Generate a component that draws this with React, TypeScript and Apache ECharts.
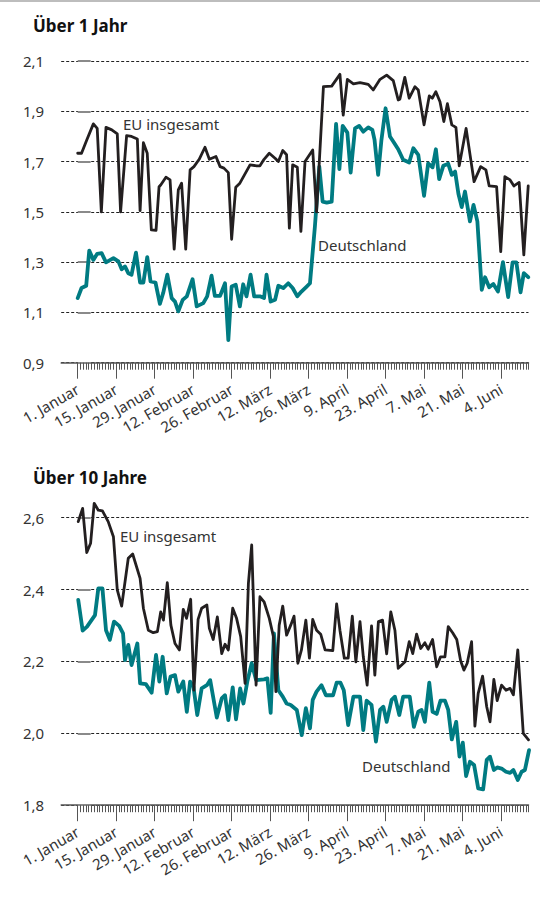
import React, { useEffect, useRef } from 'react';
import * as echarts from 'echarts';

const tickLabels = ['1. Januar', '15. Januar', '29. Januar', '12. Februar', '26. Februar', '12. März', '26. März', '9. April', '23. April', '7. Mai', '21. Mai', '4. Juni'];
const yTicks1 = [0.9, 1.1, 1.3, 1.5, 1.7, 1.9, 2.1];
const yTicks2 = [1.8, 2.0, 2.2, 2.4, 2.6];
const titles = ['Über 1 Jahr', 'Über 10 Jahre'];
const seriesNames = ['EU insgesamt', 'Deutschland'];

// [day since 1 January, yield in %]
const eu1 = [[0,1.733],[1.4,1.733],[3.3,1.786],[5.7,1.85],[7.1,1.832],[8.6,1.5],[10.3,1.836],[12.4,1.826],[14.4,1.81],[15.6,1.5],[17.8,1.803],[19.6,1.80],[21.7,1.79],[22.7,1.505],[23.9,1.775],[25.3,1.733],[26.8,1.428],[28.5,1.426],[29.6,1.6],[30.2,1.607],[32.1,1.638],[33.6,1.627],[35.1,1.352],[36.6,1.587],[37.8,1.614],[39.3,1.352],[40.9,1.667],[42.3,1.68],[44.2,1.709],[46.3,1.757],[47.9,1.709],[50.3,1.72],[51.8,1.68],[53.2,1.674],[54.8,1.656],[56,1.391],[57.5,1.598],[59,1.614],[62.7,1.687],[65.1,1.683],[66.3,1.683],[67.8,1.709],[69.7,1.733],[71.8,1.713],[73,1.70],[74.6,1.744],[76,1.727],[77,1.435],[78.2,1.687],[79.9,1.677],[81.2,1.422],[82.7,1.70],[85.5,1.746],[86.9,1.5],[89.4,1.998],[92.4,2.0],[95.4,2.047],[96.6,1.885],[98.1,2.027],[100.3,2.009],[102.7,2.014],[105.7,2.007],[107.5,1.985],[110,2.027],[112.4,2.044],[114.8,2.022],[116.6,1.945],[117.2,1.948],[119,2.035],[120.6,1.952],[122.7,1.998],[123.9,1.985],[126,1.846],[127.9,1.961],[129,1.952],[130.3,1.978],[131.8,1.938],[133.2,1.859],[134.5,1.93],[136.1,1.846],[137.6,1.836],[138.8,1.683],[141.3,1.832],[144.2,1.62],[146.6,1.68],[148.5,1.667],[149.7,1.603],[152.4,1.60],[153.9,1.342],[155.4,1.64],[157.3,1.627],[158.7,1.603],[160.6,1.617],[162.3,1.329],[163.9,1.603]];

const de1 = [[0,1.157],[1.4,1.197],[3.1,1.206],[4.2,1.346],[5.7,1.309],[7.1,1.333],[8.7,1.336],[10.3,1.299],[13,1.316],[14.8,1.303],[16,1.272],[17.2,1.283],[18.4,1.256],[19.6,1.25],[21.2,1.338],[22.7,1.219],[23.9,1.219],[25.3,1.32],[26.5,1.223],[28.3,1.219],[29.9,1.134],[31.1,1.177],[32.6,1.25],[34.2,1.157],[35.4,1.143],[36.6,1.104],[38.2,1.15],[39.7,1.164],[41.8,1.232],[43.3,1.124],[45.7,1.137],[47.1,1.164],[48.7,1.246],[49.9,1.166],[51.8,1.166],[53.6,1.216],[54.8,0.99],[56,1.203],[57.5,1.21],[59,1.124],[60.2,1.212],[61.4,1.164],[62.9,1.25],[64.2,1.164],[66.3,1.164],[67.8,1.157],[68.7,1.25],[70.2,1.143],[71.8,1.15],[73,1.206],[74.8,1.197],[76.6,1.216],[78.2,1.197],[79.9,1.164],[81.4,1.183],[83.3,1.203],[84.5,1.216],[86.3,1.442],[87.9,1.68],[89.1,1.541],[90.6,1.537],[92.4,1.541],[94,1.85],[95.2,1.67],[96.4,1.842],[98.1,1.815],[99.3,1.656],[100.9,1.832],[102.4,1.842],[103.9,1.819],[105.7,1.836],[107.2,1.826],[108,1.786],[109.3,1.647],[110.5,1.786],[112,1.912],[113.6,1.80],[114.8,1.78],[116.6,1.749],[118.4,1.707],[120.6,1.696],[122.1,1.753],[123.9,1.727],[126,1.564],[127.5,1.693],[129.1,1.677],[130.3,1.749],[131.5,1.63],[133,1.683],[134.8,1.691],[136.1,1.647],[137.3,1.66],[138.5,1.572],[139.7,1.519],[140.9,1.581],[142.7,1.462],[144,1.528],[145.4,1.462],[147,1.19],[148.2,1.24],[149.7,1.2],[151.2,1.213],[152.9,1.183],[154.7,1.3],[156.6,1.161],[158.2,1.299],[159.6,1.299],[161.1,1.18],[162.3,1.256],[163.9,1.24]];

const eu2 = [[0.2,2.589],[1.8,2.626],[3.3,2.503],[4.7,2.529],[6,2.64],[7.5,2.621],[9,2.619],[11.1,2.589],[13,2.547],[14.4,2.399],[16,2.354],[18.4,2.487],[20,2.499],[22.7,2.431],[23.9,2.348],[25.7,2.287],[27.5,2.28],[29,2.283],[30.2,2.338],[31.2,2.315],[32.6,2.419],[33.9,2.301],[35.4,2.25],[37,2.232],[38.4,2.345],[39.6,2.32],[41.1,2.373],[42.3,2.12],[43.8,2.317],[45.1,2.348],[47,2.357],[47.9,2.292],[49.3,2.261],[50.8,2.324],[52.4,2.222],[53.6,2.248],[54.8,2.232],[56.4,2.348],[57.8,2.32],[59.3,2.269],[60.9,2.139],[62.1,2.417],[63.3,2.524],[64.9,2.134],[66.3,2.38],[67.8,2.366],[69.7,2.32],[71.2,2.269],[72.1,2.116],[73.3,2.301],[74.6,2.354],[76,2.273],[77.5,2.301],[78.7,2.326],[80.1,2.195],[81.4,2.232],[83,2.315],[84.3,2.209],[85.5,2.317],[86.9,2.287],[88.4,2.276],[90,2.232],[92.8,2.23],[94.2,2.36],[95.4,2.287],[97,2.209],[98.4,2.209],[99.9,2.326],[101.2,2.199],[102.7,2.311],[103.9,2.213],[105.3,2.134],[106.9,2.299],[108.1,2.162],[109.4,2.311],[110.9,2.315],[112.4,2.221],[113.9,2.338],[115.4,2.287],[116.6,2.181],[119.1,2.199],[120.6,2.255],[121.9,2.222],[123.3,2.276],[124.8,2.236],[126.3,2.252],[127.5,2.234],[129.1,2.261],[130.6,2.185],[132,2.213],[133.6,2.213],[134.8,2.297],[136.4,2.28],[137.9,2.261],[139.3,2.202],[140.5,2.176],[141.7,2.195],[143.3,2.255],[144.5,2.02],[145.7,2.111],[147.3,2.159],[148.8,2.074],[150,2.032],[151.4,2.15],[152.6,2.091],[154.2,2.134],[155.8,2.12],[157.3,2.125],[158.5,2.107],[160.1,2.232],[162.1,2.0],[164,1.982]];

const de2 = [[0.2,2.371],[1.8,2.286],[3.4,2.297],[6.3,2.329],[7.5,2.403],[9,2.403],[10.3,2.287],[11.7,2.26],[13.2,2.311],[15.1,2.299],[16.5,2.278],[17.2,2.204],[18.4,2.246],[19.6,2.19],[21.7,2.25],[22.7,2.139],[24.8,2.137],[26.9,2.113],[28.5,2.218],[29.7,2.144],[30.9,2.213],[32.4,2.111],[33.8,2.158],[35.4,2.162],[36.6,2.116],[38.4,2.144],[39.7,2.06],[40.9,2.144],[42.1,2.13],[43.5,2.051],[45.1,2.125],[47,2.134],[48.2,2.148],[50.6,2.044],[52.4,2.097],[53.6,2.106],[54.8,2.037],[56.4,2.128],[57.6,2.039],[59.1,2.125],[60.3,2.083],[61.7,2.144],[63.3,2.195],[64.9,2.148],[67.8,2.15],[69,2.153],[70.2,2.057],[71.4,2.278],[73,2.12],[74.6,2.102],[76,2.083],[77.5,2.079],[79.7,2.065],[81.5,1.995],[83,2.07],[84.5,2.014],[85.5,2.093],[86.9,2.116],[88.7,2.134],[90.3,2.106],[92.9,2.106],[94.2,2.141],[95.6,2.141],[96.8,2.12],[98.4,2.023],[100.3,2.102],[102.7,2.102],[103.9,2.009],[105.1,2.091],[106.9,2.079],[108.5,1.977],[110,2.065],[111.2,2.074],[112.4,2.032],[114.2,2.093],[115.4,2.102],[117,2.051],[118.4,2.102],[120.8,2.102],[122.3,2.018],[123.9,2.06],[125.1,2.065],[126.3,2.032],[127.9,2.141],[129.1,2.06],[130.6,2.054],[132,2.091],[133.6,2.091],[134.8,2.065],[136.1,1.983],[137.7,2.032],[138.9,1.935],[140.1,1.974],[141.3,1.881],[142.7,1.921],[144.2,1.912],[145.7,1.847],[147.5,1.844],[148.8,1.926],[150,1.935],[151.4,1.898],[152.6,1.905],[154.2,1.902],[155.8,1.893],[157.3,1.89],[158.5,1.898],[160.1,1.87],[161.5,1.893],[162.7,1.898],[164.2,1.953]];

const DAY_MIN = -6;
const DAY_MAX = 164;
const dayCats = Array.from({ length: DAY_MAX - DAY_MIN + 1 }, (_, i) => String(i + DAY_MIN));

const FONT = '"Noto Sans", sans-serif';
const TEAL = '#007b82';
const BLACK = '#231f20';
const TXT = '#333333';

const isMajor = (i: number) => {
  const d = i + DAY_MIN;
  return d >= 0 && d % 14 === 0;
};

function buildOption() {
  const grids = [
    { left: 61.2, right: 11.5, top: 61, height: 301.7 },
    { left: 61.2, right: 11.5, top: 517.7, height: 287.5 },
  ];
  const xAxis: any[] = [];
  const yAxis: any[] = [];
  const yTicks = [yTicks1, yTicks2];
  [0, 1].forEach((g) => {
    xAxis.push({
      type: 'category', gridIndex: g, position: 'bottom', data: dayCats, boundaryGap: false,
      axisLine: { show: true, onZero: false, lineStyle: { color: '#555', width: 1.5 } },
      axisTick: { show: true, interval: (i: number) => i + DAY_MIN >= 0, length: 7, lineStyle: { color: '#555', width: 1 } },
      axisLabel: { show: false }, splitLine: { show: false },
    });
    xAxis.push({
      type: 'category', gridIndex: g, position: 'bottom', data: dayCats, boundaryGap: false,
      axisLine: { show: false, onZero: false },
      axisTick: { show: true, interval: (i: number) => isMajor(i), length: 16, lineStyle: { color: '#555', width: 1 } },
      axisLabel: {
        show: true, interval: (i: number) => isMajor(i), rotate: 30, margin: 25,
        formatter: (v: string) => tickLabels[Number(v) / 14] ?? '',
        fontSize: 15, color: TXT, fontFamily: FONT,
      },
      splitLine: { show: false },
    });
    xAxis.push({ type: 'value', gridIndex: g, min: DAY_MIN, max: DAY_MAX, show: false });
    const t = yTicks[g];
    yAxis.push({
      type: 'value', gridIndex: g, min: t[0], max: t[t.length - 1],
      axisLine: { show: false },
      axisTick: { show: true, inside: true, length: 13, customValues: t, lineStyle: { color: '#8a8a8a', width: 2 } },
      axisLabel: {
        show: true, customValues: t, margin: 17,
        formatter: (v: number) => v.toFixed(1).replace('.', ','),
        fontSize: 15, color: TXT, fontFamily: FONT,
      },
      splitLine: { show: true, lineStyle: { type: [3, 2], color: '#222', width: 1 } },
    });
  });

  const line = (data: number[][], g: number, color: string, width: number, z: number) => ({
    type: 'line', xAxisIndex: g * 3 + 2, yAxisIndex: g, data, showSymbol: false, symbol: 'none',
    clip: false, z, lineStyle: { color, width, join: 'round', cap: 'round' },
  });

  const text = (t: string, x: number, y: number, size: number, bold = false, fill = TXT) => ({
    type: 'text', x, y,
    style: { text: t, fontSize: size, fontWeight: bold ? 'bold' : 'normal', fontFamily: FONT, fill, textVerticalAlign: 'middle' },
  });

  return {
    animation: false,
    grid: grids,
    xAxis,
    yAxis,
    series: [
      line(de1, 0, TEAL, 3.8, 2),
      line(eu1, 0, BLACK, 2.8, 3),
      line(de2, 1, TEAL, 3.8, 2),
      line(eu2, 1, BLACK, 2.8, 3),
    ],
    graphic: [
      { type: 'rect', shape: { x: 0, y: 0, width: 540, height: 2 }, style: { fill: '#bdbdbd' } },
      text(titles[0], 33, 25, 17, true, '#111'),
      text(titles[1], 33, 477, 17, true, '#111'),
      text(seriesNames[0], 123, 124, 15),
      text(seriesNames[1], 318, 245, 15),
      text(seriesNames[0], 120, 536, 15),
      text(seriesNames[1], 362, 766, 15),
    ],
  };
}

export default function App() {
  const ref = useRef<HTMLDivElement>(null);
  useEffect(() => {
    if (!ref.current) return;
    const chart = echarts.init(ref.current, undefined, { renderer: 'svg' });
    chart.setOption(buildOption() as any);
    return () => chart.dispose();
  }, []);
  return (
    <div
      ref={ref}
      style={{ position: 'absolute', left: 0, top: 0, width: 540, height: 898, background: '#fff' }}
    />
  );
}
